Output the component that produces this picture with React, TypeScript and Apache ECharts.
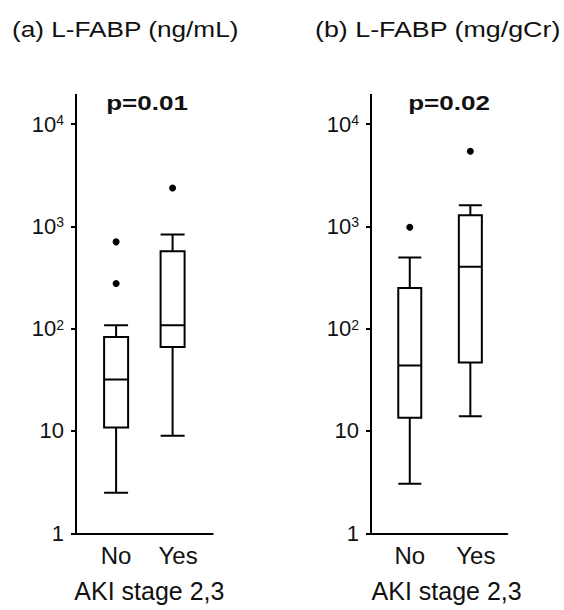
import React, { useEffect, useRef } from "react";
import * as echarts from "echarts";

const categories = ["No", "Yes"];
// [min, Q1, median, Q3, max] per category
const boxA = [
  [2.49, 10.8, 31.9, 83, 108],
  [8.98, 66, 108, 571, 832],
];
const outliersA = [[705, 276], [2372]];
const boxB = [
  [3.05, 13.5, 43.7, 250, 496],
  [13.9, 46.8, 402, 1283, 1607],
];
const outliersB = [[980], [5410]];
const titles = ["(a) L-FABP (ng/mL)", "(b) L-FABP (mg/gCr)"];
const pValues = ["p=0.01", "p=0.02"];
const xName = "AKI stage 2,3";
const yMin = 1;
const yMax = 10000;

const FONT = "'Liberation Sans', Arial, sans-serif";

export default function App() {
  const ref = useRef<HTMLDivElement>(null);
  useEffect(() => {
    if (!ref.current) return;
    const chart = echarts.init(ref.current, undefined, { renderer: "svg" });

    const grids = [
      { left: 76, top: 124, width: 136.7, height: 409.3 },
      { left: 371, top: 124, width: 136.3, height: 409.3 },
    ];
    const xRanges = [
      [0.29, 2.71],
      [0.36, 2.61],
    ];
    const namePad = [10, 15];

    const yLabelFormatter = (v: number) => {
      const e = Math.round(Math.log10(v));
      return e < 2 ? String(Math.round(v)) : `{b|10}{s|${e}}`;
    };

    const xAxes = grids.map((_, i) => ({
      type: "value",
      gridIndex: i,
      min: xRanges[i][0],
      max: xRanges[i][1],
      axisLine: { onZero: false, lineStyle: { color: "#000", width: 2 } },
      axisTick: { show: false },
      splitLine: { show: false },
      axisLabel: {
        customValues: [1, 2],
        formatter: (v: number) => {
          const k = Math.round(v) - 1;
          return k === 1 ? `{y|${categories[k]}}` : categories[k] ?? "";
        },
        fontSize: 24,
        margin: 10,
        color: "#111",
        fontFamily: FONT,
        rich: {
          y: { fontSize: 24, color: "#111", fontFamily: FONT, padding: [0, 0, 0, 11] },
        },
      },
      name: xName,
      nameLocation: "middle",
      nameGap: 45,
      nameTextStyle: {
        fontSize: 25,
        color: "#111",
        fontFamily: FONT,
        padding: [0, 0, 0, namePad[i]],
      },
    }));

    const yAxes = grids.map((_, i) => ({
      type: "log",
      logBase: 10,
      gridIndex: i,
      min: yMin,
      max: yMax,
      axisLine: {
        show: true,
        onZero: false,
        lineStyle: { color: "#000", width: 2 },
        symbol: ["none", "rect"],
        symbolSize: [2, 30],
        symbolOffset: [0, 15],
      },
      axisTick: { show: true, length: 5, lineStyle: { color: "#000", width: 2 } },
      splitLine: { show: false },
      minorTick: { show: false },
      axisLabel: {
        formatter: yLabelFormatter,
        fontSize: 22,
        margin: 12,
        color: "#111",
        fontFamily: FONT,
        rich: {
          b: { fontSize: 22, color: "#111", fontFamily: FONT },
          s: { fontSize: 14, color: "#111", fontFamily: FONT, verticalAlign: "top" },
        },
      },
    }));

    const boxes = [boxA, boxB];
    const outs = [outliersA, outliersB];
    const series: any[] = [];
    boxes.forEach((b, i) => {
      series.push({
        type: "boxplot",
        xAxisIndex: i,
        yAxisIndex: i,
        boxWidth: [i === 0 ? 24 : 23, i === 0 ? 24 : 23],
        itemStyle: { color: "#fff", borderColor: "#000", borderWidth: 2 },
        data: b.map((row, k) => [k + 1, ...row]),
      });
      series.push({
        type: "scatter",
        xAxisIndex: i,
        yAxisIndex: i,
        symbol: "circle",
        symbolSize: 7,
        itemStyle: { color: "#000", opacity: 1 },
        data: outs[i].flatMap((arr, k) => arr.map((v) => [k + 1, v])),
      });
    });

    const txt = (text: string, x: number, y: number, size: number, sx: number, align: string, bold = false) => ({
      type: "text",
      x,
      y,
      scaleX: sx,
      style: {
        text,
        fontSize: size,
        fontWeight: bold ? "bold" : "normal",
        fontFamily: FONT,
        fill: "#111",
        align,
        verticalAlign: "middle",
        textAlign: align,
        textVerticalAlign: "middle",
      },
    });

    const graphic: any[] = [
      txt(titles[0], 12, 29, 22, 1.19, "left"),
      txt(titles[1], 315, 29, 22, 1.22, "left"),
      txt(pValues[0], 147, 103, 21, 1.24, "center", true),
      txt(pValues[1], 449, 103, 21, 1.24, "center", true),
    ];

    chart.setOption({
      animation: false,
      backgroundColor: "#fff",
      textStyle: { fontFamily: FONT },
      grid: grids,
      xAxis: xAxes,
      yAxis: yAxes,
      series,
      graphic,
    });
    return () => chart.dispose();
  }, []);

  return (
    <div
      ref={ref}
      style={{ position: "absolute", left: 0, top: 0, width: 564, height: 610, background: "#fff" }}
    />
  );
}
